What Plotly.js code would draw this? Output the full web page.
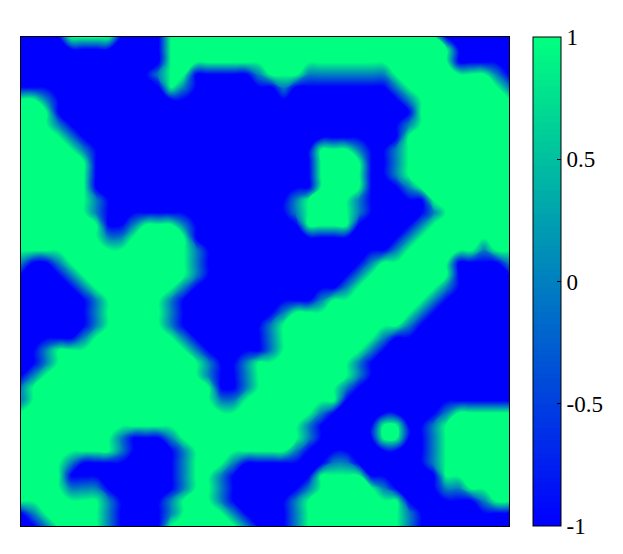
<!DOCTYPE html>
<html>
<head>
<meta charset="utf-8">
<script src="https://cdn.plot.ly/plotly-3.0.1.min.js"></script>
<style>
  html, body { margin: 0; padding: 0; background: #fff; }
  #chart { width: 623px; height: 554px; }
</style>
</head>
<body>
<div id="chart"></div>
<script>
// phase field, 40 x 40 cells, top row first
// '#' = +1 (green), '.' = -1 (blue), ':' = 0 (on an interface)
const fieldRows = [
	"....####....######################......",
	"............#######################.....",
	"............#######################.....",
	"...........:##.....:###:::::::########:.",
	"............#:.......:........:########:",
	"##:............................:########",
	"###.............................########",
	"###:...........................:########",
	"####:..........................#########",
	"#####:..................###:..:#########",
	"######..................####..:#########",
	"######..................####..:#########",
	"######..................####...:########",
	"######:...............:####:.....#######",
	"######:...............:####:.....:######",
	"#######..:###:.........####.....:#######",
	"#######::#####.................:########",
	"##############:...............:######:##",
	":..:##########:.............:######....:",
	"....:#########:............:#######.....",
	".....:#######:............:#######:.....",
	"......:#####:...........:########:......",
	"......:#####:........:##########:.......",
	"......:#####:.......:##########:........",
	".....:#######:......:########:..........",
	"..:###########:.....:#######:...........",
	"..:############:..:########:............",
	".:#############:..:########:............",
	":###############..:#######:.............",
	":###############::########..............",
	"########################:.........:#####",
	"#######################:.....##..:######",
	"########:...:##########:.....##..:######",
	"########:....:########:..........:######",
	"####:........:###:.......::......:######",
	"####.........:##:.......####......######",
	"####:::......:##:......:#####:....::####",
	"#######:....:###:.....:########......:##",
	".:#####:....:####:....:########:........",
	"..:####:....######:...:########:........"
];
const levels = { "#": 1, ":": 0, ".": -1 };
const cbTicks = [-1, -0.5, 0, 0.5, 1];
const cbTickText = ["-1", "-0.5", "0", "0.5", "1"];

var z = fieldRows.map(function (row) {
	return row.split("").map(function (c) { return levels[c]; });
});
var nx = fieldRows[0].length, ny = fieldRows.length;
var xs = [], ys = [];
for (var i = 0; i < nx; i++) xs.push(i);
for (var j = 0; j < ny; j++) ys.push(j);

var trace = {
	type: "contour",
	x: xs,
	y: ys,
	z: z,
	zmin: -1,
	zmax: 1,
	autocontour: false,
	// many thin levels so the fill and the colour bar look continuous
	contours: { start: -0.975, end: 0.975, size: 0.025, coloring: "fill", showlines: false },
	line: { width: 0, smoothing: 1.3 },
	colorscale: [[0, "rgb(0,0,255)"], [1, "rgb(0,255,128)"]],
	hoverinfo: "skip",
	colorbar: {
		x: 1.049,
		xanchor: "left",
		xpad: 0,
		y: 0.5,
		len: 1.0,
		ypad: 0,
		thickness: 28,
		outlinecolor: "#000",
		outlinewidth: 1,
		tickmode: "array",
		tickvals: cbTicks,
		ticktext: cbTickText,
		ticks: "inside",
		ticklen: 4,
		tickcolor: "#000",
		tickfont: { family: "Liberation Serif, Times New Roman, serif", size: 23, color: "#000" }
	}
};

var layout = {
	width: 623,
	height: 554,
	margin: { l: 21, r: 114, t: 37, b: 28 },
	paper_bgcolor: "#fff",
	plot_bgcolor: "#fff",
	xaxis: {
		range: [0, nx - 1],
		showticklabels: false, ticks: "", showgrid: false, zeroline: false,
		showline: true, mirror: true, linecolor: "#000", linewidth: 1
	},
	yaxis: {
		range: [ny - 1, 0],
		showticklabels: false, ticks: "", showgrid: false, zeroline: false,
		showline: true, mirror: true, linecolor: "#000", linewidth: 1
	}
};

Plotly.newPlot("chart", [trace], layout, { displayModeBar: false, staticPlot: true });
</script>
</body>
</html>
